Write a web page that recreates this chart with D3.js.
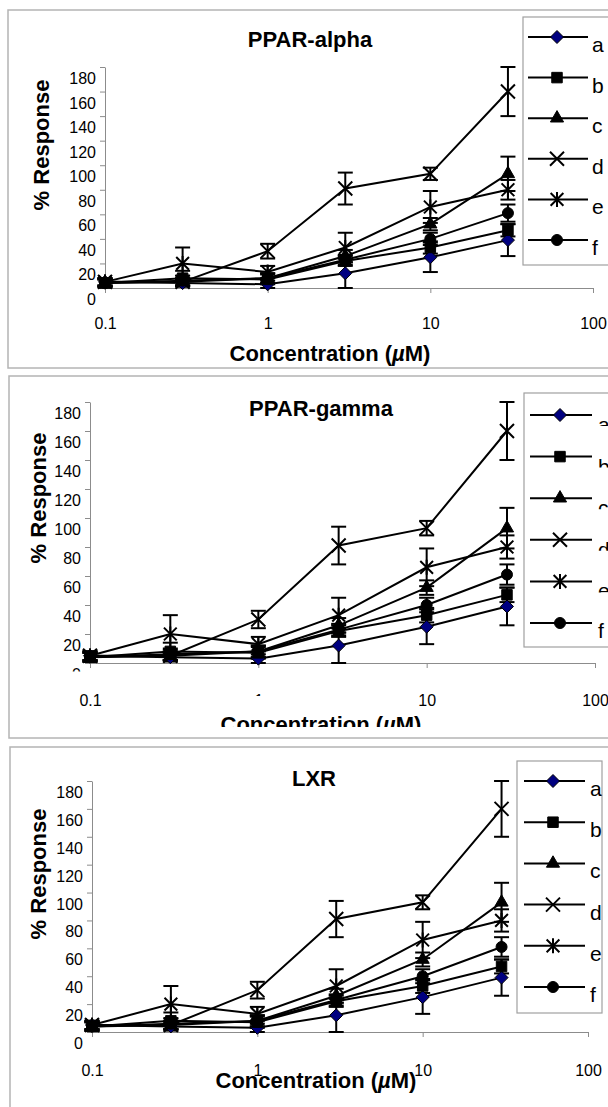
<!DOCTYPE html>
<html>
<head>
<meta charset="utf-8">
<script src="https://cdn.jsdelivr.net/npm/d3@7"></script>
<style>
  html, body { margin: 0; padding: 0; background: #fff; }
  svg { display: block; font-family: "Liberation Sans", Arial, sans-serif; }
</style>
</head>
<body>
<div id="container"></div>
<script>
// Concentrations (uM) on the log x axis
const concentrations = [0.1, 0.3, 1, 3, 10, 30];
const seriesNames = ["a", "b", "c", "d", "e", "f"];

// % response per series
const aValues = [5, 4, 3, 12, 25, 39];
const bValues = [4, 8, 7, 22, 33, 47];
const cValues = [4, 5, 8, 26, 52, 93];
const dValues = [5, 5, 30, 81, 93, 160];
const eValues = [5, 20, 13, 33, 66, 80];
const fValues = [4, 6, 8, 23, 40, 61];

// error bar half-lengths
const aErrors = [3, 3, 3, 12, 12, 13];
const bErrors = [3, 6, 4, 4, 5, 5];
const cErrors = [3, 3, 4, 5, 5, 14];
const dErrors = [3, 3, 6, 13, 5, 20];
const eErrors = [3, 13, 5, 12, 13, 8];
const fErrors = [3, 4, 4, 4, 5, 7];

const panelTitles = ["PPAR-alpha", "PPAR-gamma", "LXR"];
const yTicks = [0, 20, 40, 60, 80, 100, 120, 140, 160, 180];
const xTicks = [0.1, 1, 10, 100];

const seriesValues = [aValues, bValues, cValues, dValues, eValues, fValues];
const seriesErrors = [aErrors, bErrors, cErrors, dErrors, eErrors, fErrors];

const width = 608;
const height = 1107;
const font = "'Liberation Sans', Arial, sans-serif";

// custom marker shapes (size = (2r)^2)
const diamond = { draw(ctx, size) { const r = Math.sqrt(size) / 2; ctx.moveTo(0, -r); ctx.lineTo(r, 0); ctx.lineTo(0, r); ctx.lineTo(-r, 0); ctx.closePath(); } };
const crossX = { draw(ctx, size) { const r = Math.sqrt(size) / 2; ctx.moveTo(-r, -r); ctx.lineTo(r, r); ctx.moveTo(-r, r); ctx.lineTo(r, -r); } };
const star = { draw(ctx, size) { const r = Math.sqrt(size) / 2; ctx.moveTo(-r * 0.85, -r * 0.85); ctx.lineTo(r * 0.85, r * 0.85); ctx.moveTo(-r * 0.85, r * 0.85); ctx.lineTo(r * 0.85, -r * 0.85); ctx.moveTo(0, -r); ctx.lineTo(0, r); } };

const markers = [
  { type: diamond, size: 169, fill: "#000080", stroke: "#000", sw: 1 },
  { type: d3.symbolSquare, size: 110, fill: "#000", stroke: "#000", sw: 1 },
  { type: d3.symbolTriangle, size: 75, fill: "#000", stroke: "#000", sw: 1 },
  { type: crossX, size: 196, fill: "none", stroke: "#000", sw: 2 },
  { type: star, size: 225, fill: "none", stroke: "#000", sw: 2 },
  { type: d3.symbolCircle, size: 95, fill: "#000", stroke: "#000", sw: 1 }
];

// where each of the three stacked charts sits
const layouts = [
  { frame: [8, 10, 358], xr: [105, 593], yr: [288, 67], title: [310, 47], yTitle: [49, 145], xLab: 329, xTitle: [330, 361],
    legend: { x: 523, y: 17, w: 110, h: 248, row0: 37, step: 40.6, l0: 528, l1: 588, m: 557, t: 592 } },
  { frame: [9, 376, 362], xr: [90, 595], yr: [663, 402], title: [321, 416], yTitle: [46, 498], xLab: 706, xTitle: [321, 732],
    legend: { x: 524, y: 393, w: 110, h: 254, row0: 415, step: 41.6, l0: 530, l1: 592, m: 560, t: 598 }, clipped: true },
  { frame: [10, 747, 400], xr: [92, 588], yr: [1032, 781], title: [314, 786], yTitle: [46, 874], xLab: 1076, xTitle: [316, 1088],
    legend: { x: 517, y: 761, w: 85, h: 252, row0: 781, step: 41.2, l0: 524, l1: 585, m: 553, t: 590 } }
];

const svg = d3.select("#container").append("svg")
  .attr("width", width).attr("height", height)
  .attr("font-family", font);
const defs = svg.append("defs");
let clipCount = 0;
// clip everything below yMax (in the local coordinates of the clipped element)
function clipAbove(yMax) {
  const id = "clip" + (clipCount++);
  defs.append("clipPath").attr("id", id).attr("clipPathUnits", "userSpaceOnUse")
    .append("rect").attr("x", -width).attr("y", -height).attr("width", width * 3).attr("height", height + yMax);
  return `url(#${id})`;
}

layouts.forEach((L, p) => {
  const g = svg.append("g");

  // chart frame
  g.append("rect")
    .attr("x", L.frame[0]).attr("y", L.frame[1])
    .attr("width", 700).attr("height", L.frame[2])
    .attr("fill", "#fff").attr("stroke", "#b4b4b4").attr("stroke-width", 1.5);

  const x = d3.scaleLog().domain([0.1, 100]).range(L.xr);
  const y = d3.scaleLinear().domain([0, 180]).range(L.yr);

  // y axis
  const yAxis = g.append("g")
    .attr("transform", `translate(${L.xr[0]},0)`)
    .call(d3.axisLeft(y).tickValues(yTicks).tickSize(5).tickSizeOuter(0).tickPadding(4))
    .attr("font-family", font).attr("font-size", 16);
  yAxis.selectAll(".domain, line").attr("stroke", "#8c8c8c");
  yAxis.selectAll("text").attr("fill", "#000")
    .attr("dy", null).attr("y", 16.5);
  // the PPAR-gamma chart shows only the top sliver of its "0" label
  if (L.clipped) yAxis.selectAll("text").filter(d => d === 0).attr("clip-path", clipAbove(8));

  // x axis
  const xAxis = g.append("g")
    .attr("transform", `translate(0,${L.yr[0]})`)
    .call(d3.axisBottom(x).tickValues(xTicks).tickSize(5).tickSizeOuter(0).tickFormat(d => String(d)))
    .attr("font-family", font).attr("font-size", 16);
  xAxis.selectAll(".domain, line").attr("stroke", "#8c8c8c");
  xAxis.selectAll("text").attr("fill", "#000")
    .attr("dy", null).attr("y", L.xLab - L.yr[0]);
  if (L.clipped) xAxis.selectAll("text").filter(d => d === 1).attr("clip-path", clipAbove(L.xLab - L.yr[0] - 10));

  // titles
  g.append("text")
    .attr("x", L.title[0]).attr("y", L.title[1])
    .attr("text-anchor", "middle").attr("font-size", 22).attr("font-weight", "bold")
    .text(panelTitles[p]);

  g.append("text")
    .attr("transform", `translate(${L.yTitle[0]},${L.yTitle[1]}) rotate(-90)`)
    .attr("text-anchor", "middle").attr("font-size", 22).attr("font-weight", "bold")
    .text("% Response");

  const xt = g.append("text")
    .attr("x", L.xTitle[0]).attr("y", L.xTitle[1])
    .attr("text-anchor", "middle").attr("font-size", 22).attr("font-weight", "bold");
  xt.append("tspan").text("Concentration (");
  xt.append("tspan").attr("font-style", "italic").text("\u00b5");
  xt.append("tspan").text("M)");
  if (L.clipped) xt.attr("clip-path", clipAbove(727));

  // series lines
  const line = d3.line().x((d, i) => x(concentrations[i])).y(d => y(d));
  seriesValues.forEach(vals => {
    g.append("path").datum(vals)
      .attr("fill", "none").attr("stroke", "#000").attr("stroke-width", 2)
      .attr("d", line);
  });

  // error bars
  seriesValues.forEach((vals, s) => {
    const errs = seriesErrors[s];
    const eb = g.append("g").attr("stroke", "#000").attr("stroke-width", 2);
    vals.forEach((v, i) => {
      const cx = x(concentrations[i]);
      const top = y(v + errs[i]);
      const bot = y(v - errs[i]);
      eb.append("line").attr("x1", cx).attr("x2", cx).attr("y1", top).attr("y2", bot);
      eb.append("line").attr("x1", cx - 7.5).attr("x2", cx + 7.5).attr("y1", top).attr("y2", top);
      eb.append("line").attr("x1", cx - 7.5).attr("x2", cx + 7.5).attr("y1", bot).attr("y2", bot);
    });
  });

  // markers
  seriesValues.forEach((vals, s) => {
    const m = markers[s];
    g.append("g").selectAll("path")
      .data(vals)
      .join("path")
      .attr("transform", (d, i) => `translate(${x(concentrations[i])},${y(d)})`)
      .attr("d", d3.symbol(m.type, m.size))
      .attr("fill", m.fill).attr("stroke", m.stroke).attr("stroke-width", m.sw);
  });

  // legend
  const lg = L.legend;
  g.append("rect")
    .attr("x", lg.x).attr("y", lg.y).attr("width", lg.w).attr("height", lg.h)
    .attr("fill", "#fff").attr("stroke", "#a0a0a0").attr("stroke-width", 1.2);
  seriesNames.forEach((name, i) => {
    const ry = lg.row0 + i * lg.step;
    const m = markers[i];
    g.append("line")
      .attr("x1", lg.l0).attr("x2", lg.l1).attr("y1", ry).attr("y2", ry)
      .attr("stroke", "#000").attr("stroke-width", 2);
    g.append("path")
      .attr("transform", `translate(${lg.m},${ry})`)
      .attr("d", d3.symbol(m.type, m.size))
      .attr("fill", m.fill).attr("stroke", m.stroke).attr("stroke-width", m.sw);
    const label = g.append("text")
      .attr("x", lg.t).attr("font-size", 21)
      .text(name);
    if (L.clipped && i < 5) {
      label.attr("y", ry + 17).attr("clip-path", clipAbove(ry + 11));
    } else {
      label.attr("y", ry + 15);
    }
  });
});
</script>
</body>
</html>
